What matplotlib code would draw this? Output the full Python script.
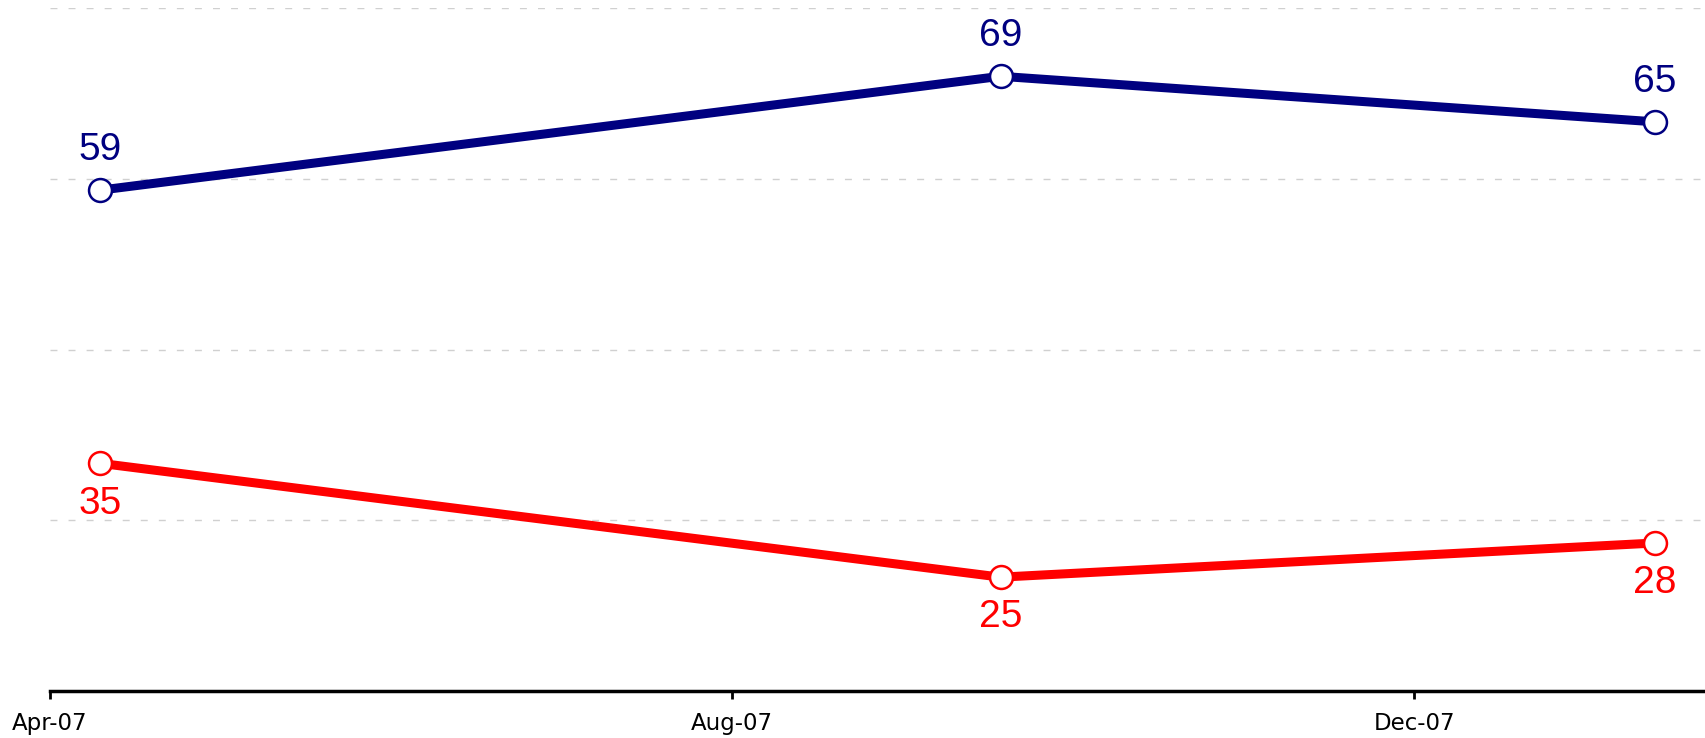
import matplotlib.pyplot as plt
import pandas as pd

dates = pd.to_datetime(["2007-04-10", "2007-09-18", "2008-01-13"])
blue_vals = [59, 69, 65]
red_vals = [35, 25, 28]
tick_dates = pd.to_datetime(["2007-04-01", "2007-08-01", "2007-12-01"])
tick_labels = ["Apr-07", "Aug-07", "Dec-07"]

fig = plt.figure(figsize=(17.05, 7.38), dpi=100)
ax = fig.add_axes([50 / 1705, 47 / 738, 1 - 50 / 1705, (691 - 8) / 738])

for vals, color, dy, va in [(blue_vals, "#000080", 16, "bottom"),
                            (red_vals, "#ff0000", -16, "top")]:
    ax.plot(dates, vals, color=color, linewidth=6.5, solid_capstyle="butt",
            marker="o", markersize=16.5, markerfacecolor="white",
            markeredgecolor=color, markeredgewidth=1.8, zorder=3)
    for d, v in zip(dates, vals):
        ax.annotate(str(v), (d, v), xytext=(0, dy), textcoords="offset points",
                    ha="center", va=va, fontsize=28, color=color,
                    family="Liberation Sans")

ax.set_ylim(15, 75)
ax.set_xlim(pd.Timestamp("2007-04-01"), pd.Timestamp("2008-01-22"))
ax.set_yticks([30, 45, 60, 75])
ax.yaxis.grid(True, color="#d0d0d0", linestyle=(0, (5, 8)), linewidth=1)
ax.tick_params(axis="y", left=False, labelleft=False)

ax.set_xticks(tick_dates)
ax.set_xticklabels(tick_labels, fontsize=16.5, family="DejaVu Sans")
ax.tick_params(axis="x", direction="out", length=6, width=2, pad=9)

for s in ["top", "left", "right"]:
    ax.spines[s].set_visible(False)
ax.spines["bottom"].set_linewidth(2.5)
ax.set_axisbelow(True)

fig.savefig("out.png", dpi=100)
